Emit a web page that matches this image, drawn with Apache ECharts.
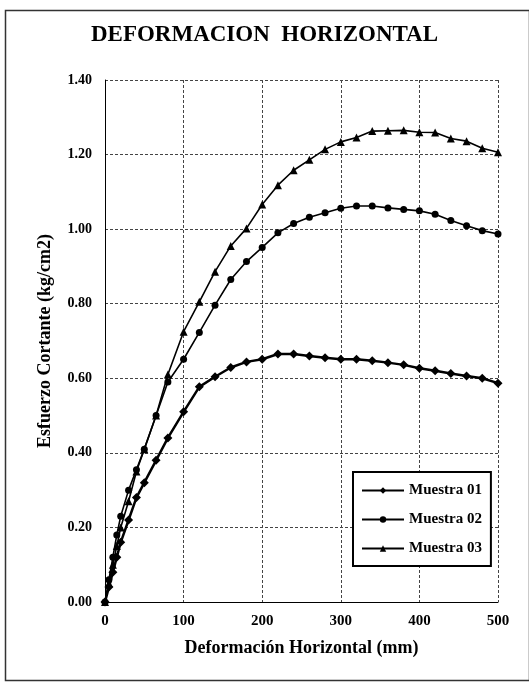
<!DOCTYPE html>
<html>
<head>
<meta charset="utf-8">
<script src="https://cdn.jsdelivr.net/npm/echarts@6/dist/echarts.min.js"></script>
<style>
html,body{margin:0;padding:0;background:#fff;}
#chart{width:529px;height:684px;}
</style>
</head>
<body>
<div id="chart"></div>
<script>
var xValues = [0, 5, 10, 15, 20, 30, 40, 50, 65, 80, 100, 120, 140, 160, 180, 200, 220, 240, 260, 280, 300, 320, 340, 360, 380, 400, 420, 440, 460, 480, 500];
var muestra01 = [0, 0.04, 0.08, 0.12, 0.16, 0.22, 0.28, 0.32, 0.38, 0.44, 0.51, 0.577, 0.604, 0.629, 0.644, 0.651, 0.665, 0.665, 0.660, 0.655, 0.651, 0.651, 0.647, 0.642, 0.636, 0.627, 0.620, 0.613, 0.606, 0.600, 0.587];
var muestra02 = [0, 0.06, 0.12, 0.18, 0.23, 0.30, 0.355, 0.41, 0.50, 0.59, 0.651, 0.723, 0.796, 0.865, 0.913, 0.951, 0.990, 1.015, 1.032, 1.044, 1.056, 1.062, 1.062, 1.057, 1.053, 1.049, 1.040, 1.023, 1.009, 0.996, 0.987];
var muestra03 = [0, 0.05, 0.10, 0.15, 0.20, 0.27, 0.35, 0.41, 0.50, 0.61, 0.725, 0.805, 0.886, 0.955, 1.002, 1.066, 1.118, 1.158, 1.186, 1.214, 1.234, 1.246, 1.263, 1.264, 1.265, 1.260, 1.259, 1.243, 1.236, 1.217, 1.206];
var seriesNames = ['Muestra 01', 'Muestra 02', 'Muestra 03'];
var xTicks = [0, 100, 200, 300, 400, 500];
var yTicks = [0, 0.2, 0.4, 0.6, 0.8, 1.0, 1.2, 1.4];

function pairs(xs, ys) { return xs.map(function (x, i) { return [x, ys[i]]; }); }

var FONT = '"Liberation Serif", "DejaVu Serif", serif';
var chart = echarts.init(document.getElementById('chart'), null, {renderer: 'canvas'});
var gridStyle = {show: true, lineStyle: {color: '#444', width: 1, type: [3, 2]}};
chart.setOption({
  backgroundColor: '#fff',
  animation: false,
  title: {
    text: 'DEFORMACION  HORIZONTAL',
    left: 'center', top: 19,
    textStyle: {fontFamily: FONT, fontWeight: 'bold', fontSize: 23, color: '#000'}
  },
  graphic: [{
    type: 'rect', left: 3, top: 8, silent: true,
    shape: {width: 524, height: 670},
    style: {fill: 'none', stroke: '#333', lineWidth: 1.5}
  }],
  grid: {left: 105, right: 31, top: 80, bottom: 82},
  legend: {
    orient: 'vertical', left: 353, top: 472,
    padding: [11, 9, 10, 8],
    backgroundColor: '#fff', borderColor: '#000', borderWidth: 2,
    itemWidth: 42, itemHeight: 8, itemGap: 14,
    data: seriesNames,
    textStyle: {fontFamily: FONT, fontSize: 15, color: '#000', fontWeight: 'bold'}
  },
  xAxis: {
    type: 'value', min: xTicks[0], max: xTicks[xTicks.length - 1], interval: 100,
    name: 'Deformación Horizontal (mm)', nameLocation: 'middle', nameGap: 37,
    nameTextStyle: {fontFamily: FONT, fontWeight: 'bold', fontSize: 18, color: '#000'},
    axisLine: {lineStyle: {color: '#000', width: 1}},
    axisTick: {show: false},
    axisLabel: {fontFamily: FONT, fontWeight: 'bold', fontSize: 15, color: '#000', margin: 12},
    splitLine: gridStyle
  },
  yAxis: {
    type: 'value', min: yTicks[0], max: yTicks[yTicks.length - 1], interval: 0.2,
    name: 'Esfuerzo Cortante (kg/cm2)', nameLocation: 'middle', nameGap: 51, nameRotate: 90,
    nameTextStyle: {fontFamily: FONT, fontWeight: 'bold', fontSize: 18, color: '#000'},
    axisLine: {show: true, lineStyle: {color: '#000', width: 1}},
    axisTick: {show: false},
    axisLabel: {fontFamily: FONT, fontWeight: 'bold', fontSize: 14, color: '#000', margin: 13,
      formatter: function (v) { return v.toFixed(2); }},
    splitLine: gridStyle
  },
  series: [
    {name: seriesNames[0], type: 'line', data: pairs(xValues, muestra01), symbol: 'diamond', symbolSize: 9,
      lineStyle: {color: '#000', width: 2.5}, itemStyle: {color: '#000'}},
    {name: seriesNames[1], type: 'line', data: pairs(xValues, muestra02), symbol: 'circle', symbolSize: 7,
      lineStyle: {color: '#000', width: 1.6}, itemStyle: {color: '#000'}},
    {name: seriesNames[2], type: 'line', data: pairs(xValues, muestra03), symbol: 'triangle', symbolSize: 8,
      lineStyle: {color: '#000', width: 1.6}, itemStyle: {color: '#000'}}
  ]
});
</script>
</body>
</html>
